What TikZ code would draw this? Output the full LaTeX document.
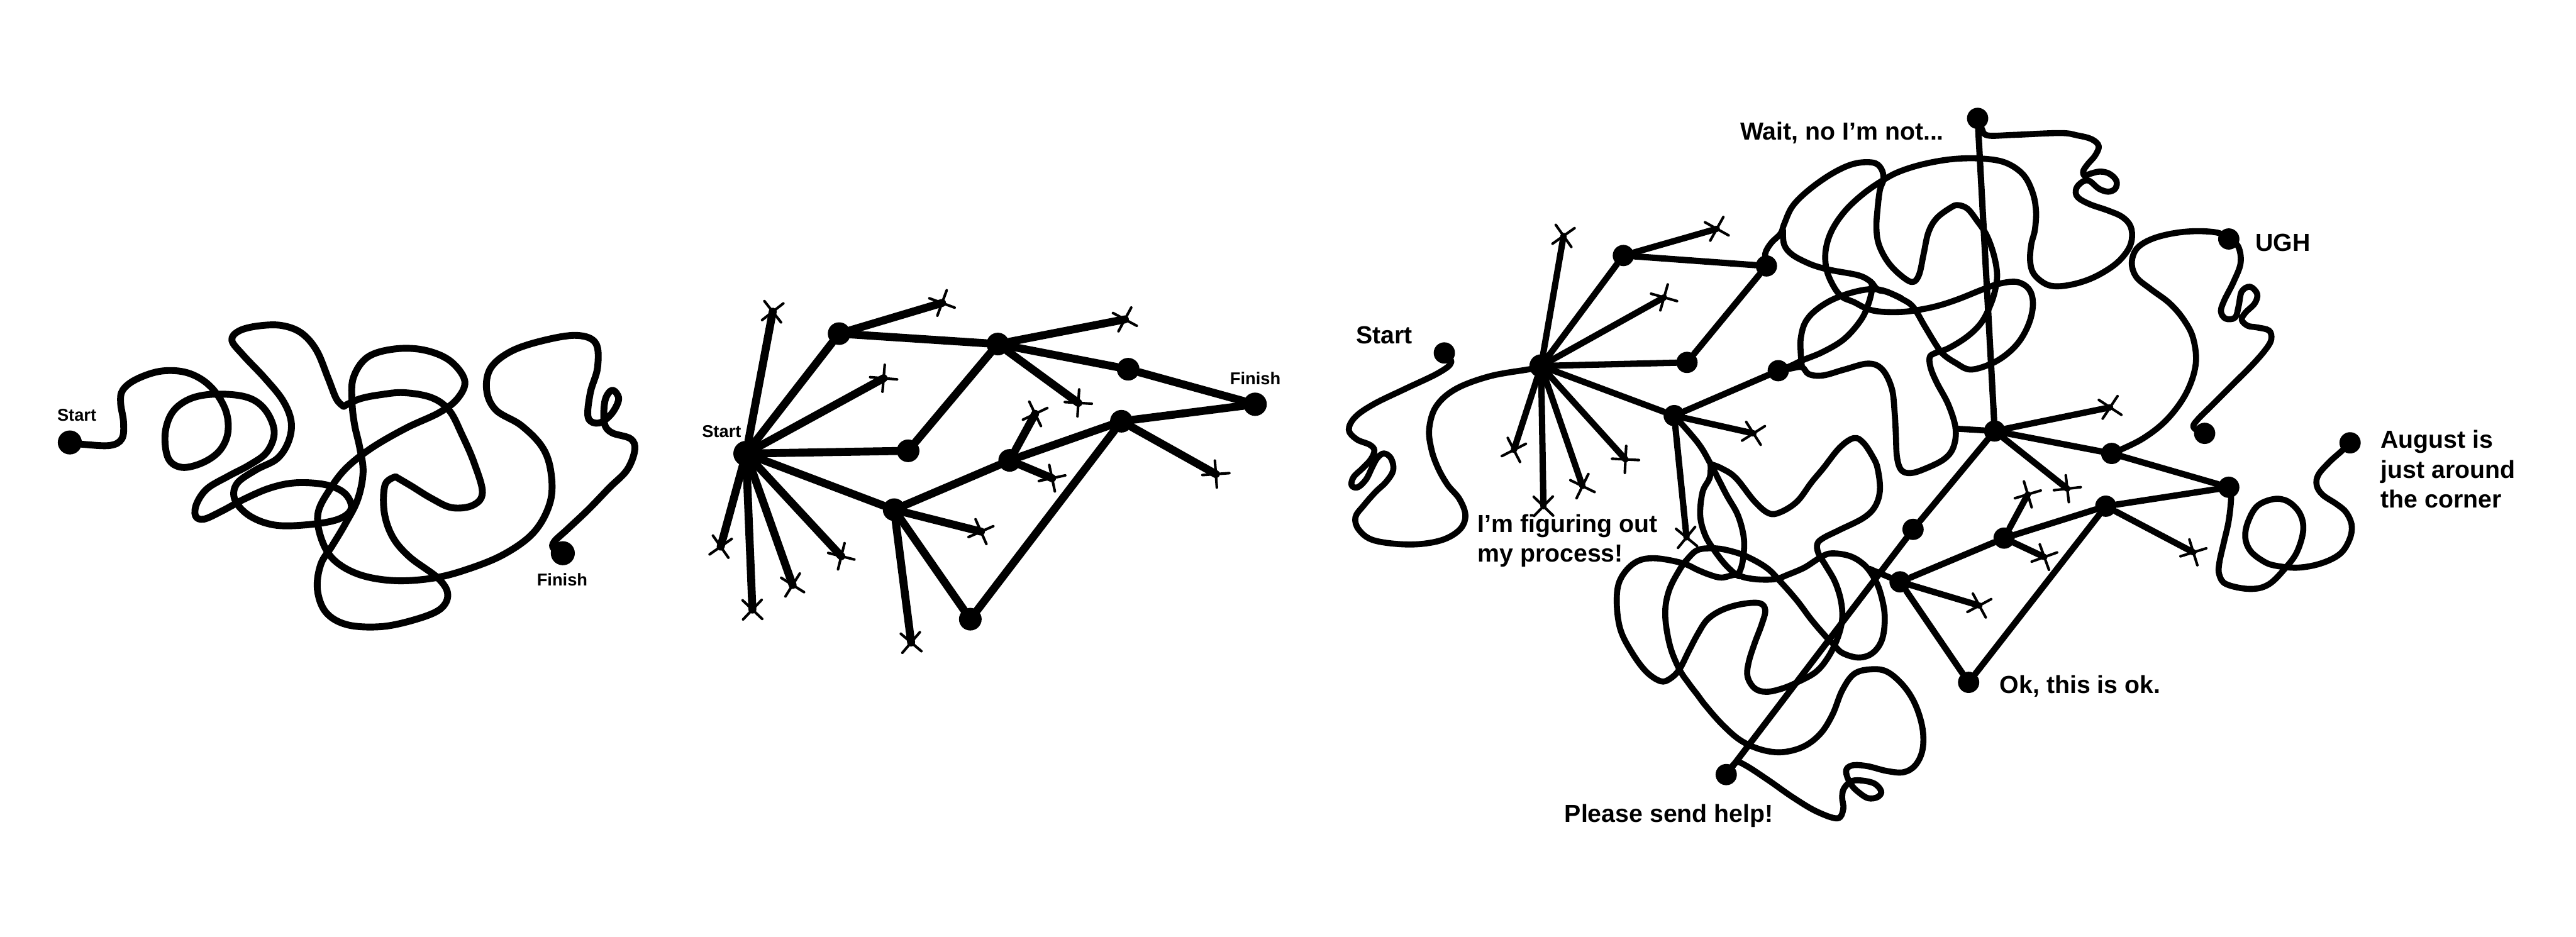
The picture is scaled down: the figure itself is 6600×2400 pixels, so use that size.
\documentclass[tikz,border=0pt]{standalone}
\usepackage{fontspec}
\setmainfont{Liberation Sans}
\usetikzlibrary{shapes.misc}

\begin{document}
\begin{tikzpicture}[x=0.01cm, y=-0.01cm,
    dot/.style={circle, fill=black, inner sep=0pt, minimum size=15.5pt},
    xmark/.style={cross out, draw, line width=1.9pt, minimum size=12pt, inner sep=0pt, sloped, pos=1},
    wire/.style={line width=4.4pt, line cap=round, line join=round},
    link/.style={line width=4.6pt, line cap=round},
    lbl/.style={font=\fontsize{12.5}{15}\selectfont\bfseries, inner sep=0pt},
    say/.style={font=\fontsize{18}{21.8}\selectfont\bfseries, inner sep=0pt, align=left},
]
\useasboundingbox (0,0) rectangle (6600,2400);

% ===== Panel 1: one tangled line =====
\begin{scope}[shift={(0,700)}, xscale=1.0842, yscale=0.6378,
    wire/.style={line width=5pt, line cap=round, line join=round}]
\node[dot, minimum size=17.5pt] (st1) at (165,680) {};
\node[dot, minimum size=17.5pt] (fin1) at (1330,1125) {};
\draw[wire] plot[smooth, tension=0.6] coordinates {(st1) (200,688) (260,692) (288,665) (292,600) (285,520) (290,470) (320,428) (375,395) (430,395) (475,425) (510,480) (535,560) (538,645) (518,715) (478,762) (430,780) (398,745) (390,650) (405,565) (440,512) (490,488) (560,490) (605,515) (635,570) (648,645) (630,720) (590,770) (540,815) (490,865) (465,925) (462,975) (482,988) (525,955) (580,905) (640,862) (700,842) (770,850) (815,885) (830,945) (800,988) (730,1010) (650,1012) (590,975) (555,910) (560,845) (605,790) (655,745) (682,675) (688,595) (668,510) (625,420) (575,330) (548,270) (565,232) (610,212) (665,210) (712,240) (748,310) (775,420) (795,505) (812,535)};
\draw[wire] plot[smooth, tension=0.6] coordinates {(812,535) (850,505) (900,488) (955,480) (1020,500) (1062,552) (1092,650) (1120,760) (1140,880) (1118,932) (1068,942) (1020,905) (972,855) (935,818)};
\draw[wire] plot[smooth, tension=0.6] coordinates {(935,818) (910,850) (908,960) (928,1060) (968,1140) (1035,1225) (1058,1290) (1040,1350) (980,1392) (900,1420) (820,1412) (770,1362) (750,1270) (758,1170) (785,1095) (815,1010) (845,910) (858,800) (850,700) (838,610) (832,520) (835,420) (868,338) (930,305) (1000,308) (1062,350) (1098,430) (1082,502) (1038,560) (960,622) (880,700) (820,780) (782,862) (752,960) (758,1060) (788,1150) (848,1210) (930,1235) (1020,1226) (1100,1192) (1190,1130) (1262,1040) (1300,920) (1302,800) (1282,700) (1232,612) (1172,550) (1150,470) (1160,380) (1210,312) (1290,268) (1365,250) (1408,282) (1412,380) (1395,480) (1390,580) (1415,602) (1445,565) (1462,505) (1447,470) (1430,510) (1428,600) (1445,640) (1490,665) (1500,710) (1482,790) (1440,862) (1390,950) (1340,1030) (1310,1078) (1308,1105) (fin1)};
\end{scope}
\node[lbl, anchor=base west] at (146,1078) {Start};
\node[lbl, anchor=base west] at (1375,1501) {Finish};

% ===== Panel 2: branching paths =====
\begin{scope}[shift={(1700,650)}, xscale=1.0842, yscale=0.7015,
    link/.style={line width=5.8pt, line cap=round}]
\node[dot, minimum size=18.5pt] (s2) at (195,730) {};
\node[dot, minimum size=16.5pt] (a2) at (415,292) {};
\node[dot, minimum size=16.5pt] (b2) at (790,330) {};
\node[dot, minimum size=16.5pt] (c2) at (1098,422) {};
\node[dot, minimum size=17pt] (fin2) at (1398,550) {};
\node[dot, minimum size=16.5pt] (d2) at (578,720) {};
\node[dot, minimum size=16.5pt] (e2) at (545,935) {};
\node[dot, minimum size=16.5pt] (m2) at (818,755) {};
\node[dot, minimum size=16.5pt] (g2) at (1082,612) {};
\node[dot, minimum size=16.5pt] (h2) at (725,1335) {};
% dead ends
\foreach \n/\x/\y in {p1/258/212, p2/520/455, p3/135/1070, p4/210/1300, p5/305/1210,
    p6/420/1105, p7/658/180, p8/1090/240, p9/980/545, p10/878/585, p11/918/820,
    p12/750/1015, p13/585/1420, p14/1305/805}
    \coordinate (\n) at (\x,\y);
\foreach \a/\b in {s2/a2, s2/d2, s2/e2, a2/b2, b2/d2, b2/c2, c2/fin2, e2/m2,
    m2/g2, g2/fin2, e2/h2, h2/g2}
    \draw[link] (\a) -- (\b);
\foreach \a/\b in {s2/p1, s2/p2, s2/p3, s2/p4, s2/p5, s2/p6, a2/p7, b2/p8, b2/p9,
    m2/p10, m2/p11, e2/p12, e2/p13, g2/p14}
    \draw[link] (\a) -- (\b) node[xmark] {};
\end{scope}
\node[lbl, anchor=base west] at (1798,1120) {Start};
\node[lbl, anchor=base west] at (3151,985) {Finish};

% ===== Panel 3: branching and tangling =====
\begin{scope}[shift={(3400,250)}, scale=0.6059]
\node[dot] (st3) at (496,1080) {};
\node[dot, minimum size=17pt] (hub3) at (905,1135) {};
\node[dot] (a3) at (1253,668) {};
\node[dot] (c3) at (1858,712) {};
\node[dot] (b3) at (1522,1120) {};
\node[dot] (d3) at (1468,1345) {};
\node[dot] (e3) at (1908,1155) {};
\node[dot] (top3) at (2751,88) {};
\node[dot] (hubw) at (2823,1410) {};
\node[dot] (n5) at (3318,1505) {};
\node[dot] (ugh) at (3813,598) {};
\node[dot] (ughend) at (3711,1420) {};
\node[dot] (aug) at (4326,1460) {};
\node[dot] (n6) at (3813,1648) {};
\node[dot] (n7) at (3293,1728) {};
\node[dot] (n3) at (2863,1863) {};
\node[dot] (n2) at (2423,2048) {};
\node[dot] (n1) at (2478,1826) {};
\node[dot] (ok) at (2713,2473) {};
\node[dot] (help) at (1688,2863) {};

% tangled lines
\draw[wire] plot[smooth, tension=0.6] coordinates {(st3) (525,1120) (470,1165) (330,1232) (200,1295) (120,1350) (92,1405) (125,1445) (180,1468) (200,1492) (185,1530) (150,1568) (112,1605) (104,1640) (130,1648) (165,1615) (190,1565) (212,1525) (240,1505) (270,1525) (280,1575) (250,1625) (205,1668) (155,1725) (120,1775) (135,1828) (200,1873) (350,1890) (480,1873) (560,1828) (585,1768) (560,1698) (510,1638) (470,1568) (442,1490) (432,1400) (462,1305) (545,1232) (690,1178) (860,1148) (hub3)};
\draw[wire] plot[smooth, tension=0.6] coordinates {(top3) (2768,130) (2793,160) (2900,158) (3100,150) (3173,160) (3233,176) (3263,205) (3248,245) (3218,280) (3198,310) (3203,330) (3228,322) (3268,313) (3308,322) (3338,352) (3333,385) (3303,398) (3263,385) (3223,352) (3193,357) (3168,385) (3173,420) (3223,450) (3303,478) (3363,505) (3398,545) (3403,600) (3383,650) (3333,705) (3253,755) (3173,785) (3093,798) (3038,788) (2988,745) (2973,690) (2978,620) (2993,560) (2998,480) (2983,400) (2943,325) (2868,275) (2768,258) (2648,260) (2528,280) (2428,310) (2358,345) (2270,405) (2190,480) (2133,565) (2108,650) (2113,730) (2143,800) (2178,843) (2228,865) (2283,893) (2338,905) (2418,907) (2488,900) (2578,882) (2668,853) (2768,813) (2843,787) (2918,780) (2968,810) (2985,870) (2970,950) (2928,1030) (2868,1090) (2798,1130) (2718,1150) (2658,1122) (2608,1088) (2578,1050) (2528,968) (2478,885) (2428,850) (2368,822) (2328,812) (2298,778) (2248,752) (2148,733) (2098,722) (2038,702) (1968,665) (1933,622) (1928,560)};
\draw[wire] plot[smooth, tension=0.6] coordinates {(c3) (1853,660) (1878,615) (1918,575) (1933,535) (1968,460) (2038,390) (2138,320) (2228,280) (2308,275) (2343,300) (2353,345) (2338,390) (2328,470) (2323,550) (2333,620) (2368,690) (2418,745) (2473,780) (2503,750) (2523,660) (2543,570) (2578,510) (2638,465) (2668,455) (2708,470) (2748,520) (2788,580) (2818,660) (2833,740) (2828,800) (2808,870) (2768,950) (2708,1010) (2628,1060) (2568,1082) (2548,1100) (2553,1145) (2578,1205) (2628,1300) (2658,1400) (2648,1480) (2608,1530) (2528,1570) (2468,1588) (2428,1575) (2410,1520) (2405,1420) (2400,1330) (2388,1230) (2348,1150) (2288,1125) (2188,1150) (2098,1175) (2038,1170) (2008,1140) (1960,1146) (e3)};
\draw[wire] plot[smooth, tension=0.6] coordinates {(e3) (1960,1135) (2008,1112) (2098,1075) (2188,1020) (2258,940) (2290,870) (2305,805) (2298,778)};
\draw[wire] plot[smooth, tension=0.6] coordinates {(2008,1140) (2003,1080) (2003,1020) (2020,955) (2060,905) (2130,858) (2218,825) (2300,810) (2358,818) (2428,848)};
\draw[wire] plot[smooth, tension=0.6] coordinates {(help) (1728,2813) (1768,2823) (1868,2888) (1968,2958) (2068,3018) (2158,3048) (2183,3008) (2178,2958) (2188,2918) (2228,2888) (2308,2898) (2343,2933) (2328,2958) (2288,2963) (2248,2938) (2218,2908) (2198,2868) (2198,2838) (2228,2823) (2288,2828) (2368,2848) (2438,2853) (2488,2823) (2518,2758) (2518,2668) (2488,2568) (2438,2488) (2368,2428) (2298,2418) (2228,2438) (2178,2508) (2138,2608) (2088,2688) (2018,2743) (1928,2768) (1838,2758) (1748,2718) (1668,2648) (1598,2568) (1568,2528) (1530,2478) (1490,2418) (1450,2318) (1430,2188) (1445,2088) (1490,1998) (1530,1945) (1568,1913) (1628,1906) (1688,1913) (1768,1938) (1858,1988) (1918,2048) (1988,2128) (2048,2208) (2108,2278) (2138,2308) (2178,2348) (2248,2368) (2308,2348) (2348,2288) (2358,2188) (2338,2088) (2308,2023) (2268,1973) (2208,1938) (2128,1928) (2078,1950) (2018,1988) (1948,2018) (1898,2036) (1828,2038) (1768,2030) (1728,2018) (1668,2030) (1618,2018) (1568,1998) (1500,1968) (1380,1948) (1300,1968) (1240,2038) (1225,2128) (1240,2248) (1290,2348) (1350,2428) (1410,2468) (1450,2458) (1490,2418) (1530,2340) (1568,2268) (1608,2208) (1668,2168) (1748,2143) (1828,2138) (1853,2168) (1838,2228) (1808,2308) (1783,2388) (1778,2448) (1808,2498) (1858,2513) (1928,2498) (1998,2468) (2068,2428) (2118,2368) (2158,2288) (2178,2208) (2173,2128) (2148,2048) (2108,1978) (2078,1928) (2073,1888) (2098,1863) (2168,1828) (2268,1778) (2318,1728) (2338,1658) (2328,1568) (2308,1520) (2268,1460) (2228,1440) (2168,1480) (2098,1568) (2048,1628) (1988,1708) (1918,1753) (1868,1758) (1808,1708) (1728,1608) (1668,1568) (1622,1550)};
\draw[wire] plot[smooth, tension=0.6] coordinates {(d3) (1568,1460) (1622,1550) (1688,1678) (1738,1768) (1763,1868) (1758,1958) (1743,2008) (1728,2018)};
\draw[wire] plot[smooth, tension=0.6] coordinates {(1622,1555) (1618,1608) (1588,1668) (1578,1768) (1598,1848) (1633,1908) (1678,1968) (1718,2008) (1743,2025)};
\draw[wire] plot[smooth, tension=0.6] coordinates {(n5) (3343,1495) (3453,1440) (3553,1360) (3633,1250) (3673,1130) (3663,1020) (3623,940) (3563,870) (3483,810) (3423,760) (3403,700) (3423,640) (3483,600) (3573,575) (3673,565) (3768,572) (ugh)};
\draw[wire] plot[smooth, tension=0.6] coordinates {(ugh) (3853,630) (3863,700) (3833,780) (3793,860) (3780,905) (3800,935) (3840,930) (3855,880) (3868,820) (3903,800) (3933,830) (3923,870) (3883,910) (3868,940) (3893,965) (3933,972) (3983,985) (3993,1020) (3973,1060) (3913,1130) (3813,1230) (3733,1310) (3683,1360) (3663,1390) (3683,1410) (ughend)};
\draw[wire] plot[smooth, tension=0.6] coordinates {(aug) (4290,1495) (4240,1540) (4192,1595) (4185,1640) (4210,1680) (4270,1720) (4310,1755) (4333,1810) (4323,1870) (4283,1930) (4203,1970) (4103,1988) (4003,1978) (3950,1955) (3903,1915) (3883,1862) (3893,1798) (3933,1728) (4003,1698) (4063,1708) (4113,1758) (4128,1828) (4103,1918) (4058,1983) (3983,2058) (3903,2078) (3803,2058) (3773,2018) (3773,1968) (3793,1878) (3813,1788) (3823,1688) (n6)};
\coordinate (tap1) at (2658,1400);
\coordinate (tap2) at (2292,1992);
\draw[wire] (tap1) -- (hubw);
\draw[wire] (tap2) -- (n2);

% dead ends
\foreach \n/\x/\y in {q1/1000/585, q2/1425/845, q3/790/1490, q4/1262/1530, q5/915/1728,
    q6/1080/1643, q7/1648/555, q8/1803/1420, q9/1520/1860, q10/3311/1310, q11/3130/1654,
    q12/2963/1678, q13/3033/1943, q14/2758/2148, q15/3663/1923}
    \coordinate (\n) at (\x,\y);
\foreach \a/\b in {hub3/a3, hub3/b3, hub3/d3, a3/c3, b3/c3, d3/e3, top3/hubw, hubw/n5,
    hubw/n1, n1/help, n5/n6, n6/n7, n7/n3, n7/ok, n3/n2, n2/ok}
    \draw[link] (\a) -- (\b);
\foreach \a/\b in {hub3/q1, hub3/q2, hub3/q3, hub3/q4, hub3/q5, hub3/q6, a3/q7, d3/q8,
    d3/q9, hubw/q10, hubw/q11, n3/q12, n3/q13, n2/q14, n7/q15}
    \draw[link] (\a) -- (\b) node[xmark] {};
\end{scope}

% labels
\node[say, anchor=base west] at (3474,880) {Start};
\node[say, anchor=base west] at (4458,359) {Wait, no I’m not...};
\node[say, anchor=base west] at (5778,643) {UGH};
\node[say, anchor=north west] at (6099,1102) {August is\\just around\\the corner};
\node[say, anchor=north west] at (3785,1317) {I’m figuring out\\my process!};
\node[say, anchor=base west] at (5123,1776) {Ok, this is ok.};
\node[say, anchor=base west] at (4008,2106) {Please send help!};

\end{tikzpicture}
\end{document}
